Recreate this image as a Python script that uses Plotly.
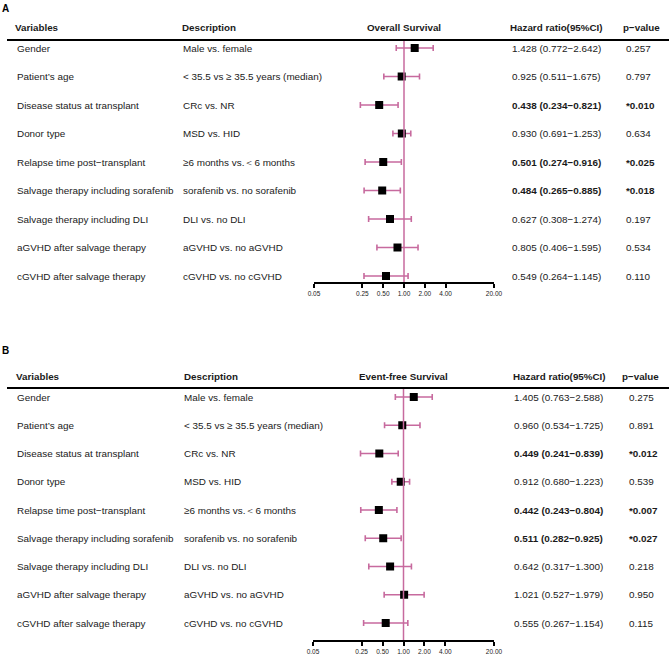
import plotly.graph_objects as go

W, H = 669, 658

variables = ["Gender", "Patient\u2019s age", "Disease status at transplant", "Donor type",
             "Relapse time post\u2212transplant", "Salvage therapy including sorafenib",
             "Salvage therapy including DLI", "aGVHD after salvage therapy",
             "cGVHD after salvage therapy"]
descriptions = ["Male vs. female", "< 35.5 vs \u2265 35.5 years (median)", "CRc vs. NR",
                "MSD vs. HID", "\u22656 months vs.\uff1c6 months", "sorafenib vs. no sorafenib",
                "DLI vs. no DLI", "aGVHD vs. no aGVHD", "cGVHD vs. no cGVHD"]

os_hr = [1.428, 0.925, 0.438, 0.930, 0.501, 0.484, 0.627, 0.805, 0.549]
os_lo = [0.772, 0.511, 0.234, 0.691, 0.274, 0.265, 0.308, 0.406, 0.264]
os_hi = [2.642, 1.675, 0.821, 1.253, 0.916, 0.885, 1.274, 1.595, 1.145]
os_p = ["0.257", "0.797", "0.010", "0.634", "0.025", "0.018", "0.197", "0.534", "0.110"]
os_sig = [False, False, True, False, True, True, False, False, False]

efs_hr = [1.405, 0.960, 0.449, 0.912, 0.442, 0.511, 0.642, 1.021, 0.555]
efs_lo = [0.763, 0.534, 0.241, 0.680, 0.243, 0.282, 0.317, 0.527, 0.267]
efs_hi = [2.588, 1.725, 0.839, 1.223, 0.804, 0.925, 1.300, 1.979, 1.154]
efs_p = ["0.275", "0.891", "0.012", "0.539", "0.007", "0.027", "0.218", "0.950", "0.115"]
efs_sig = [False, False, True, False, True, True, False, False, False]

tick_vals = [0.05, 0.25, 0.5, 1, 2, 4, 20]
tick_text = ["0.05", "0.25", "0.50", "1.00", "2.00", "4.00", "20.00"]

panel_titles = ["Overall Survival", "Event-free Survival"]
headers = ["Variables", "Description", "Hazard ratio(95%CI)", "p\u2212value"]

PINK = "#C76A9E"
TXT = "#1a1a1a"
FONT = "Liberation Sans, Arial, sans-serif"
ROW_SIZE = 9.9
HEAD_SIZE = 9.8


def px(x):
    return x / W


def py(y):
    return 1 - y / H


panels = [
    dict(hr=os_hr, lo=os_lo, hi=os_hi, p=os_p, sig=os_sig, title=panel_titles[0], letter="A",
         letter_y=8, head_y=28, line_y=40, top=41, bottom=282, row0=48, step=28.5,
         ax0=314, ax1=494, cx=[17, 183, 512, 626], hx=[15, 182, 510, 623]),
    dict(hr=efs_hr, lo=efs_lo, hi=efs_hi, p=efs_p, sig=efs_sig, title=panel_titles[1], letter="B",
         letter_y=350, head_y=376, line_y=388, top=389, bottom=640, row0=397, step=28.25,
         ax0=313, ax1=494, cx=[17, 184, 514, 629], hx=[16, 184, 513, 622]),
]

fig = go.Figure()
annotations = []
shapes = []
n = len(variables)

for i, P in enumerate(panels):
    xa = "x" if i == 0 else "x2"
    ya = "y" if i == 0 else "y2"
    rows = list(range(n))
    fig.add_trace(go.Scatter(
        x=P["hr"], y=rows, xaxis=xa, yaxis=ya, mode="markers",
        marker=dict(symbol="square", size=8, color="black"),
        error_x=dict(type="data", symmetric=False,
                     array=[h - m for h, m in zip(P["hi"], P["hr"])],
                     arrayminus=[m - l for m, l in zip(P["hr"], P["lo"])],
                     color=PINK, thickness=1.6, width=3),
        showlegend=False, hoverinfo="skip"))

    ytop = (P["top"] - P["row0"]) / P["step"]
    ybot = (P["bottom"] - P["row0"]) / P["step"]
    axkey = "xaxis" if i == 0 else "xaxis2"
    aykey = "yaxis" if i == 0 else "yaxis2"
    fig.layout[axkey] = dict(
        type="log", domain=[px(P["ax0"]), px(P["ax1"])], anchor=ya,
        range=[-1.30103, 1.30103], tickvals=tick_vals, ticktext=tick_text,
        showline=True, linecolor="black", linewidth=2, ticks="outside", ticklen=4,
        tickwidth=2, tickcolor="black", showgrid=False, zeroline=False, automargin=False,
        tickfont=dict(size=6.5, color=TXT, family=FONT))
    fig.layout[aykey] = dict(
        domain=[py(P["bottom"]), py(P["top"])], range=[ybot, ytop], anchor=xa,
        visible=False, showgrid=False, zeroline=False, automargin=False)

    shapes.append(dict(type="line", xref=xa, yref=ya + " domain", x0=1, x1=1, y0=0, y1=1,
                       line=dict(color=PINK, width=1.5)))
    shapes.append(dict(type="line", xref="paper", yref="paper", x0=px(7), x1=1,
                       y0=py(P["line_y"]), y1=py(P["line_y"]),
                       line=dict(color="black", width=2)))

    annotations.append(dict(text="<b>" + P["letter"] + "</b>", xref="paper", yref="paper",
                            x=px(2), y=py(P["letter_y"]), xanchor="left", yanchor="middle",
                            showarrow=False, borderpad=0, borderwidth=0,
                            font=dict(size=10, color="black", family=FONT)))
    hy = py(P["head_y"])
    hdr = [(headers[0], P["hx"][0], "left"), (headers[1], P["hx"][1], "left"),
           (P["title"], (P["ax0"] + P["ax1"]) / 2, "center"),
           (headers[2], P["hx"][2], "left"), (headers[3], P["hx"][3], "left")]
    for t, xx, anc in hdr:
        annotations.append(dict(text="<b>" + t + "</b>", xref="paper", yref="paper",
                                x=px(xx), y=hy, xanchor=anc, yanchor="middle",
                                showarrow=False, borderpad=0, borderwidth=0,
                                font=dict(size=HEAD_SIZE, color=TXT, family=FONT)))

    for r in range(n):
        hr_txt = "%.3f (%.3f\u2212%.3f)" % (P["hr"][r], P["lo"][r], P["hi"][r])
        p_txt = P["p"][r]
        if P["sig"][r]:
            hr_txt = "<b>" + hr_txt + "</b>"
            p_txt = "<b>*" + p_txt + "</b>"
        cells = [variables[r], descriptions[r], hr_txt, p_txt]
        for c, t in enumerate(cells):
            annotations.append(dict(text=t, xref="paper", yref=ya, x=px(P["cx"][c]), y=r,
                                    xanchor="left", yanchor="middle", showarrow=False,
                                    borderpad=0, borderwidth=0,
                                    font=dict(size=ROW_SIZE, color=TXT, family=FONT)))

fig.update_layout(width=W, height=H,
                  margin=dict(l=0, r=0, t=0, b=0, pad=0, autoexpand=False),
                  paper_bgcolor="white", plot_bgcolor="white",
                  annotations=annotations, shapes=shapes,
                  font=dict(family=FONT, color=TXT))

fig.write_html("out.html", config={"displayModeBar": False},
               post_script="document.body.style.margin='0px';"
                           "document.body.style.overflow='hidden';")
